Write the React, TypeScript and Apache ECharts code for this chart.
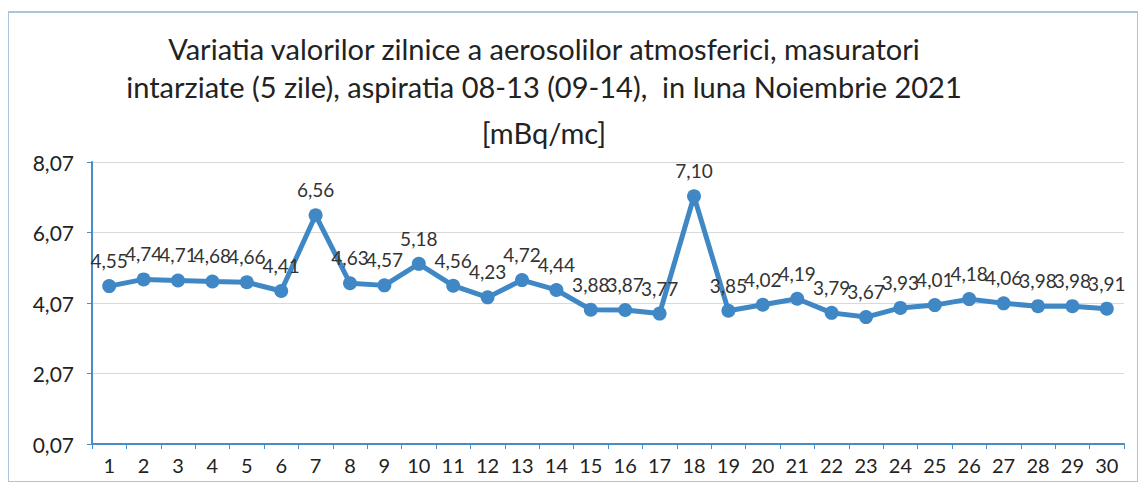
import React, { useEffect, useRef } from "react";
import * as echarts from "echarts";

const days = Array.from({ length: 30 }, (_, i) => String(i + 1));
const values = [
  4.55, 4.74, 4.71, 4.68, 4.66, 4.41, 6.56, 4.63, 4.57, 5.18,
  4.56, 4.23, 4.72, 4.44, 3.88, 3.87, 3.77, 7.1, 3.85, 4.02,
  4.19, 3.79, 3.67, 3.93, 4.01, 4.18, 4.06, 3.98, 3.98, 3.91,
];
const titleLines = [
  "Variatia valorilor zilnice a aerosolilor atmosferici, masuratori",
  "intarziate (5 zile), aspiratia 08-13 (09-14),  in luna Noiembrie 2021",
  "[mBq/mc]",
];
const yMin = 0.07;
const yMax = 8.07;
const yStep = 2;

const FONT = "Lato";
const fmt = (v: number) => v.toFixed(2).replace(".", ",");

export default function App() {
  const ref = useRef<HTMLDivElement>(null);
  useEffect(() => {
    if (!ref.current) return;
    const chart = echarts.init(ref.current, undefined, { renderer: "svg" });
    chart.setOption({
      animation: false,
      backgroundColor: "#ffffff",
      textStyle: { fontFamily: FONT },
      graphic: [
        {
          type: "rect",
          shape: { x: 0, y: 4, width: 1130, height: 470 },
          style: { fill: "none", stroke: "#a9c4dc", lineWidth: 2 },
        },
        ...titleLines.map((t, i) => ({
          type: "text",
          x: 536,
          y: [26, 64, 110][i],
          style: {
            text: t,
            font: `29px ${FONT}`,
            fill: "#222",
            textAlign: "center",
          },
        })),
      ],
      grid: { left: 84, right: 14, top: 154, bottom: 38 },
      xAxis: {
        type: "category",
        data: days,
        boundaryGap: true,
        axisLine: { lineStyle: { color: "#4a8cc8", width: 2 } },
        axisTick: { show: true, length: 5, lineStyle: { color: "#4a8cc8" } },
        axisLabel: { color: "#222", fontSize: 20, margin: 11, fontFamily: FONT },
      },
      yAxis: {
        type: "value",
        min: yMin,
        max: yMax,
        interval: yStep,
        axisLine: { show: true, lineStyle: { color: "#4a8cc8", width: 2 } },
        axisTick: { show: true, length: 5, lineStyle: { color: "#4a8cc8" } },
        axisLabel: {
          color: "#222",
          fontSize: 21,
          margin: 18,
          fontFamily: FONT,
          formatter: (v: number) => fmt(v),
        },
        splitLine: { lineStyle: { color: "#d9d9d9", width: 1 } },
      },
      series: [
        {
          type: "line",
          data: values,
          symbol: "circle",
          symbolSize: 14,
          lineStyle: { color: "#3f88c5", width: 5 },
          itemStyle: { color: "#3f88c5" },
          label: {
            show: true,
            position: "top",
            distance: 9,
            color: "#333",
            fontSize: 19,
            fontFamily: FONT,
            formatter: (p: any) => fmt(p.value),
          },
        },
      ],
    });
    return () => chart.dispose();
  }, []);
  return <div ref={ref} style={{ width: 1130, height: 474 }} />;
}
